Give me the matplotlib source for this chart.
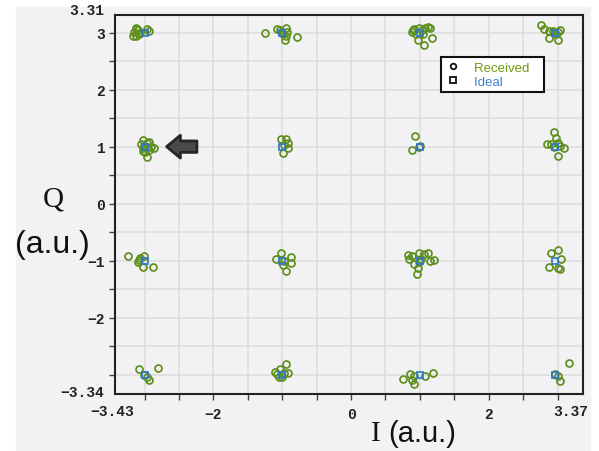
import matplotlib
matplotlib.use("Agg")
import matplotlib.pyplot as plt
from matplotlib.patches import FancyArrow, Rectangle
from matplotlib.lines import Line2D

# ideal 16-QAM points
ideal_i = [-3, -3, -3, -3, -1, -1, -1, -1, 1, 1, 1, 1, 2.97, 2.97, 2.97, 2.97]
ideal_q = [3, 1, -1, -3, 3, 1, -1, -3, 3, 1, -1, -3, 3, 1, -1, -3]

# received symbols
recv_i = [
    -3.12, -3.10, -3.15, -3.17, -3.13, -3.08, -2.96, -2.93, -3.13, -3.07,          # (-3, 3)
    -3.03, -2.96, -2.94, -3.05, -3.01, -2.97, -2.91, -2.86, -3.03, -2.99, -2.93, -2.96, -3.02,  # (-3, 1)
    -3.24, -3.07, -3.01, -3.10, -3.03, -2.88, -3.08,                               # (-3, -1)
    -3.08, -2.80, -2.96, -2.94, -3.01,                                             # (-3, -3)
    -1.25, -1.08, -1.03, -0.94, -0.93, -0.95, -0.96, -0.79, -0.99,                 # (-1, 3)
    -1.02, -0.95, -0.91, -0.92, -0.97, -0.99,                                      # (-1, 1)
    -1.02, -1.09, -0.87, -0.88, -0.99, -0.94, -0.97,                               # (-1, -1)
    -0.94, -1.03, -1.11, -1.08, -0.92, -1.05, -1.01, -0.98,                        # (-1, -3)
    0.88, 0.92, 0.90, 0.99, 1.03, 1.07, 1.12, 1.14, 1.05, 1.17, 0.97, 1.06, 0.94,  # (1, 3)
    0.93, 0.88, 1.00, 0.98,                                                        # (1, 1)
    0.83, 0.88, 0.84, 0.99, 1.06, 1.12, 1.14, 1.21, 1.02, 0.91, 0.97, 0.96, 0.99,  # (1, -1)
    0.75, 0.86, 0.92, 0.88, 0.91, 1.08, 1.19,                                      # (1, -3)
    2.76, 2.81, 2.88, 2.94, 3.04, 2.88, 3.01, 2.98, 3.00,                          # (3, 3)
    2.95, 2.98, 2.85, 2.91, 3.00, 3.03, 3.09, 3.00, 2.95,                          # (3, 1)
    2.90, 3.00, 3.05, 2.88, 3.00, 3.04,                                            # (3, -1)
    3.16, 2.96, 3.01, 3.04,                                                        # (3, -3)
]
recv_q = [
    3.09, 3.04, 3.01, 2.94, 2.95, 2.97, 3.06, 3.03, 3.07, 2.99,
    1.12, 1.07, 1.09, 1.04, 1.01, 0.99, 1.00, 0.97, 0.93, 0.91, 0.94, 0.82, 0.97,
    -0.92, -0.96, -0.91, -1.03, -1.12, -1.11, -0.99,
    -2.91, -2.88, -3.05, -3.09, -3.00,
    3.00, 3.07, 3.04, 3.09, 3.01, 2.95, 2.88, 2.92, 2.98,
    1.14, 1.13, 1.07, 0.98, 1.03, 0.88,
    -0.87, -0.98, -0.94, -1.04, -1.08, -1.19, -1.00,
    -2.82, -2.90, -2.96, -2.99, -2.98, -3.04, -3.05, -2.97,
    3.01, 3.07, 3.05, 3.09, 3.04, 3.08, 3.10, 3.09, 2.98, 2.91, 2.87, 2.79, 2.98,
    1.18, 0.95, 1.01, 1.00,
    -0.90, -0.92, -0.98, -0.87, -0.89, -0.87, -1.00, -0.99, -0.98, -1.06, -1.13, -1.24, -1.02,
    -3.08, -2.99, -3.02, -3.10, -3.16, -3.02, -2.98,
    3.13, 3.07, 3.03, 3.03, 3.05, 2.91, 2.87, 2.97, 3.01,
    1.25, 1.15, 1.04, 1.05, 1.06, 1.01, 0.97, 0.84, 0.99,
    -0.86, -0.82, -0.98, -1.11, -1.13, -1.15,
    -2.79, -2.99, -3.03, -3.12,
]

x_lim = (-3.43, 3.37)
y_lim = (-3.34, 3.31)
x_labeled = [-2, 0, 2]
y_labeled = [3, 2, 1, 0, -1, -2]

GREEN = "#5e8f1c"
BLUE = "#2f78c8"
BG = "#f2f1f4"
mono = ["Liberation Mono", "DejaVu Sans Mono"]

fig = plt.figure(figsize=(5.99, 4.52), dpi=100, facecolor="white")
fig.patches.append(Rectangle((16 / 599, 0), 574 / 599, 1 - 8 / 452,
                             transform=fig.transFigure, color=BG, zorder=-10))
ax = fig.add_axes([115 / 599, 1 - 395 / 452, 468 / 599, 379 / 452])
ax.set_facecolor(BG)

ax.plot(recv_i, recv_q, "o", ms=5, mfc="none", mec=GREEN, mew=1.25, zorder=3)
ax.plot(ideal_i, ideal_q, "s", ms=4.6, mfc="none", mec=BLUE, mew=1.25, zorder=4)

ax.set_xlim(*x_lim)
ax.set_ylim(*y_lim)

# ticks and grid every 0.5, labels only on a few
xt = [v / 2 for v in range(-6, 7)]
yt = [v / 2 for v in range(-6, 7)]
ax.set_xticks(xt)
ax.set_yticks(yt)
ax.set_xticklabels([("\u2212%d" % -v if v < 0 else "%d" % v) if v in x_labeled else "" for v in xt])
ax.set_yticklabels([("\u2212%d" % -v if v < 0 else "%d" % v) if v in y_labeled else "" for v in yt])
for lab in ax.get_xticklabels() + ax.get_yticklabels():
    lab.set_family(mono)
    lab.set_fontweight("bold")
    lab.set_fontsize(10.5)
    lab.set_color("#222222")
ax.tick_params(length=4.5, width=1, color="#444444", pad=3)
ax.tick_params(axis="x", pad=5)
ax.grid(True, color="#dcdcdf", lw=1.1)
ax.set_axisbelow(True)
for s in ax.spines.values():
    s.set_color("#222222")
    s.set_linewidth(1.5)

# axis limit labels
lim_kw = dict(family=mono, fontweight="bold", fontsize=10.5, color="#222222")
fig.text(104 / 599, 1 - 11 / 452, "3.31", ha="right", va="center", **lim_kw)
fig.text(104 / 599, 1 - 393 / 452, "\u22123.34", ha="right", va="center", **lim_kw)
fig.text(112 / 599, 1 - 412 / 452, "\u22123.43", ha="center", va="center", **lim_kw)
fig.text(571 / 599, 1 - 412 / 452, "3.37", ha="center", va="center", **lim_kw)

# axis titles
fig.text(53 / 599, 1 - 200 / 452, "Q", family="Liberation Serif", fontsize=21,
         ha="center", va="center", color="#111111")
fig.text(52 / 599, 1 - 245 / 452, "(a.u.)", family="Liberation Sans", fontsize=23,
         ha="center", va="center", color="#111111")
fig.text(376 / 599, 1 - 434 / 452, "I", family="Liberation Serif", fontsize=21,
         ha="center", va="center", color="#111111")
fig.text(422 / 599, 1 - 434 / 452, "(a.u.)", family="Liberation Sans", fontsize=21,
         ha="center", va="center", color="#111111")

# arrow pointing at the (-3, 1) cluster
ax.add_patch(FancyArrow(-2.24, 1.0, -0.44, 0, width=0.2, head_width=0.4,
                        head_length=0.2, length_includes_head=True,
                        fc="#4a4a4a", ec="#262626", lw=2, joinstyle="round", zorder=5))

# legend
handles = [Line2D([], [], ls="none", marker="o", ms=4, mfc="none", mec="#111111", mew=1.3),
           Line2D([], [], ls="none", marker="s", ms=4, mfc="none", mec="#111111", mew=1.3)]
leg = ax.legend(handles, ["Received", "Ideal"], loc="upper left",
                bbox_to_anchor=(0.697, 0.888), fancybox=False, framealpha=1,
                edgecolor="#111111", prop={"family": "Liberation Sans", "size": 9.5},
                handlelength=1.2, handletextpad=1.0, borderpad=0.3,
                labelspacing=0.15, borderaxespad=0)
leg.get_frame().set_linewidth(1.5)
leg.get_texts()[0].set_color("#6e9a12")
leg.get_texts()[1].set_color("#3f82d0")
for t in leg.get_texts():
    t.set_text(t.get_text() + "   ")

fig.savefig("out.png", dpi=100, facecolor=fig.get_facecolor())
